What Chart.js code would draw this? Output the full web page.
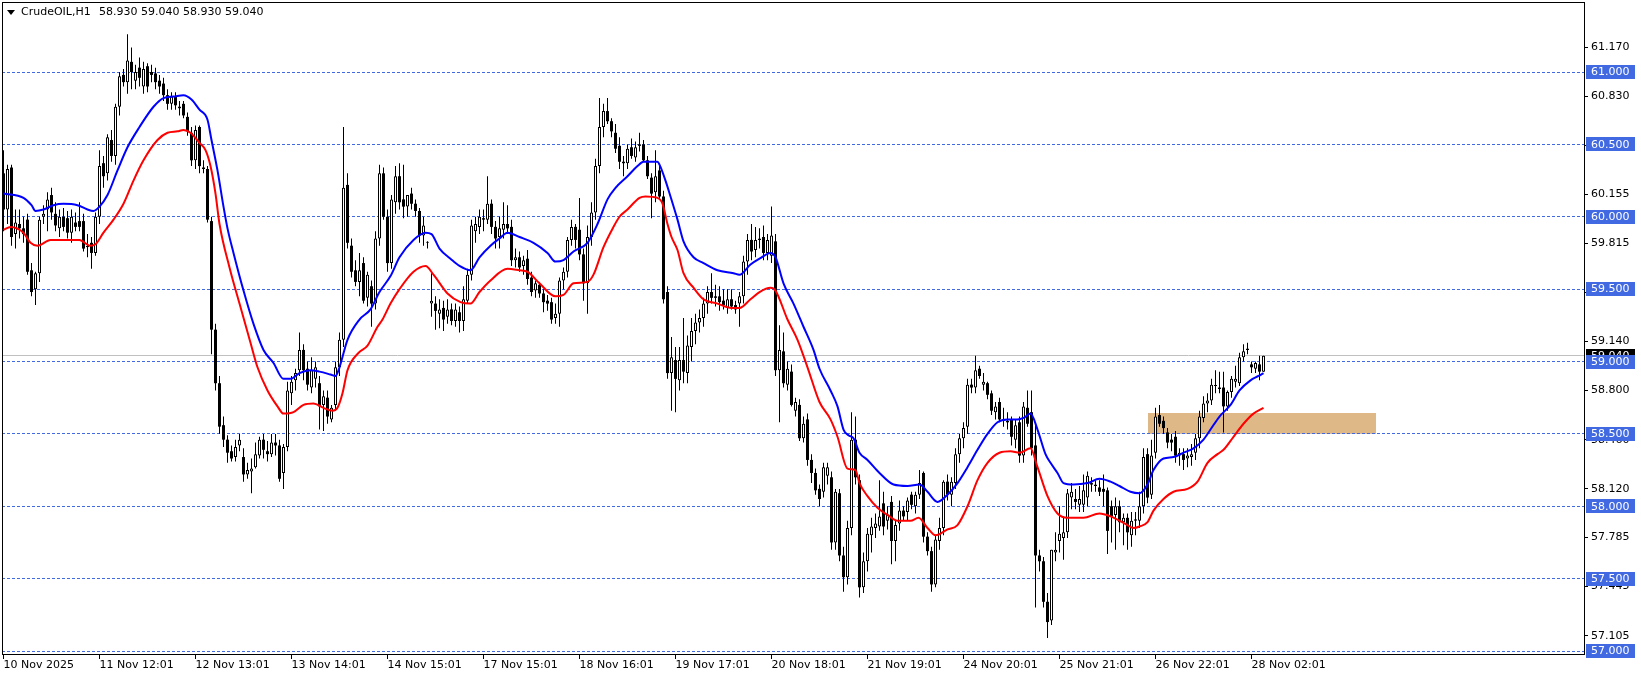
<!DOCTYPE html>
<html>
<head>
<meta charset="utf-8">
<script src="https://cdn.jsdelivr.net/npm/chart.js@4.4.0/dist/chart.umd.min.js"></script>
<style>
html,body{margin:0;padding:0;background:#ffffff;overflow:hidden}
#wrap{position:relative;width:1641px;height:678px}
canvas{display:block}
</style>
</head>
<body>
<div id="wrap"><canvas id="c" width="1641" height="678" style="width:1641px;height:678px"></canvas></div>
<script>
// ---------- DATA ----------
const symbolTitle = "CrudeOIL,H1";

const open = [
60.30,60.05,60.34,59.88,59.95,59.92,59.98,59.63,59.50,59.61,
60.00,60.05,60.15,60.02,59.92,60.00,59.99,59.89,59.96,59.97,
59.97,59.79,59.82,59.75,60.00,60.37,60.30,60.53,60.42,60.76,
60.98,60.93,61.07,60.94,61.03,60.90,61.04,61.00,60.99,60.94,
60.92,60.84,60.78,60.83,60.76,60.78,60.69,60.58,60.39,60.62,
60.34,60.33,59.97,59.22,58.85,58.56,58.46,58.38,58.34,58.42,
58.34,58.22,58.24,58.27,58.35,58.46,58.38,58.36,58.44,58.42,
58.23,58.41,58.78,58.87,58.94,59.08,58.95,58.82,58.88,58.85,
58.70,58.75,58.60,58.70,58.96,59.15,60.22,59.80,59.63,59.55,
59.68,59.44,59.52,59.40,59.85,60.30,60.00,59.68,60.10,60.28,
60.12,60.07,60.16,60.09,60.04,59.87,59.82,59.40,59.40,59.33,
59.37,59.31,59.36,59.28,59.34,59.28,59.42,59.60,59.90,59.93,
59.99,59.98,60.09,59.93,59.86,59.91,59.95,59.93,59.70,59.72,
59.66,59.71,59.58,59.49,59.53,59.47,59.42,59.41,59.30,59.33,
59.56,59.62,59.84,59.93,59.91,59.74,59.54,59.86,60.03,60.35,
60.62,60.73,60.66,60.58,60.49,60.38,60.37,60.48,60.41,60.50,
60.50,60.39,60.27,60.17,60.32,60.14,59.48,58.92,59.01,58.87,
59.01,58.92,59.10,59.21,59.27,59.30,59.40,59.48,59.45,59.45,
59.42,59.37,59.43,59.39,59.40,59.45,59.69,59.84,59.77,59.84,
59.86,59.75,59.73,59.83,58.94,59.07,58.84,58.93,58.66,58.70,
58.47,58.60,58.32,58.23,58.12,58.10,58.21,58.20,57.75,58.09,
57.66,57.51,57.85,58.46,58.18,57.44,57.62,57.80,57.85,57.86,
58.02,57.90,58.03,57.76,57.88,57.97,57.96,58.08,58.00,58.08,
58.23,57.79,57.69,57.46,57.76,57.85,58.17,58.08,58.16,58.36,
58.47,58.55,58.84,58.82,58.95,58.84,58.85,58.78,58.65,58.72,
58.60,58.59,58.60,58.46,58.58,58.35,58.68,58.65,58.42,57.66,
57.62,57.34,57.21,57.68,57.76,57.78,57.82,58.06,58.05,58.01,
58.01,58.06,58.16,58.14,58.13,58.12,58.11,58.00,57.94,58.00,
57.89,57.92,57.80,57.90,57.90,58.00,58.36,58.08,58.37,58.63,
58.59,58.51,58.46,58.48,58.35,58.36,58.33,58.34,58.37,58.47,
58.61,58.71,58.73,58.83,58.82,58.82,58.69,58.79,58.86,58.85,
59.03,59.08,58.98,58.95,58.98,58.93];

const high = [
60.46,60.36,60.36,60.05,60.05,60.00,60.02,59.68,59.62,60.00,
60.08,60.17,60.20,60.10,60.05,60.06,60.04,60.05,60.03,60.10,
60.02,59.88,59.86,60.03,60.46,60.42,60.57,60.60,60.78,61.00,
61.02,61.26,61.17,61.05,61.10,61.07,61.06,61.05,61.03,60.98,
60.96,60.88,60.86,60.86,60.80,60.80,60.72,60.62,60.63,60.63,
60.39,60.35,60.00,59.26,58.90,58.62,58.49,58.42,58.46,58.50,
58.40,58.30,58.33,58.44,58.48,58.50,58.45,58.50,58.50,58.46,
58.43,58.86,58.90,58.95,59.20,59.12,59.00,59.03,59.00,58.90,
58.80,58.80,58.70,59.00,59.20,60.62,60.30,59.85,59.70,59.75,
59.72,59.62,59.56,59.90,60.36,60.34,60.05,60.15,60.35,60.37,
60.36,60.15,60.20,60.12,60.06,60.00,59.83,59.61,59.45,59.43,
59.42,59.43,59.40,59.40,59.38,59.52,59.64,59.98,60.00,60.05,
60.05,60.28,60.12,59.97,60.00,60.10,60.08,59.98,59.78,59.76,
59.73,59.77,59.62,59.56,59.55,59.50,59.46,59.44,59.40,59.58,
59.65,59.86,59.98,59.95,60.13,59.78,59.94,60.10,60.40,60.82,
60.78,60.82,60.68,60.64,60.55,60.42,60.50,60.54,60.52,60.58,
60.53,60.42,60.30,60.46,60.36,60.18,59.52,59.17,59.10,59.10,
59.30,59.18,59.30,59.33,59.36,59.44,59.52,59.61,59.53,59.52,
59.50,59.50,59.50,59.42,59.48,59.73,59.88,59.95,59.93,59.92,
59.94,59.88,60.07,59.88,59.25,59.20,59.00,58.98,58.75,58.74,
58.62,58.64,58.36,58.26,58.15,58.30,58.30,58.24,58.12,58.12,
57.72,57.90,58.65,58.62,58.22,57.68,57.85,57.92,57.95,58.18,
58.10,58.00,58.07,57.90,58.04,58.00,58.06,58.10,58.10,58.25,
58.24,57.82,57.72,57.80,57.92,58.18,58.22,58.20,58.40,58.50,
58.58,58.88,58.88,59.04,58.97,58.92,58.86,58.80,58.72,58.75,
58.68,58.65,58.62,58.60,58.62,58.72,58.80,58.80,58.58,57.70,
57.65,57.40,57.70,57.82,58.00,57.93,58.12,58.16,58.12,58.14,
58.22,58.24,58.20,58.18,58.18,58.22,58.13,58.04,58.06,58.04,
57.95,57.95,57.96,57.96,58.10,58.40,58.40,58.46,58.68,58.70,
58.62,58.54,58.50,58.52,58.40,58.40,58.40,58.43,58.50,58.66,
58.76,58.78,58.88,58.94,58.93,58.93,58.80,58.90,58.97,59.06,
59.12,59.13,59.00,59.00,59.04,59.04];

const low = [
59.90,59.95,59.80,59.78,59.85,59.82,59.60,59.45,59.39,59.55,
59.95,59.90,59.98,59.90,59.86,59.90,59.85,59.82,59.90,59.90,
59.76,59.72,59.64,59.73,59.95,60.20,60.25,60.38,60.36,60.70,
60.90,60.85,60.88,60.88,60.90,60.85,60.86,60.93,60.88,60.85,
60.80,60.74,60.74,60.74,60.70,60.68,60.56,60.35,60.33,60.30,
60.30,59.96,59.05,58.80,58.50,58.41,58.30,58.31,58.31,58.38,
58.17,58.19,58.09,58.26,58.33,58.33,58.31,58.34,58.35,58.17,
58.12,58.38,58.70,58.80,58.90,58.87,58.80,58.78,58.82,58.53,
58.52,58.57,58.58,58.66,58.90,59.10,59.78,59.58,59.52,59.45,
59.40,59.38,59.24,59.36,59.80,59.98,59.62,59.64,60.02,60.05,
59.99,60.00,60.05,60.00,59.82,59.80,59.78,59.31,59.22,59.23,
59.21,59.26,59.25,59.24,59.20,59.21,59.40,59.56,59.82,59.88,
59.90,59.95,59.88,59.78,59.78,59.85,59.88,59.66,59.65,59.62,
59.60,59.53,59.45,59.44,59.44,59.34,59.35,59.26,59.26,59.24,
59.50,59.58,59.80,59.78,59.70,59.42,59.33,59.80,59.98,60.30,
60.55,60.64,60.55,60.44,60.33,60.28,60.33,60.40,60.38,60.45,
60.38,60.26,59.99,60.10,60.12,59.40,58.88,58.66,58.65,58.80,
58.85,58.85,59.00,59.12,59.20,59.24,59.33,59.40,59.38,59.35,
59.36,59.33,59.36,59.33,59.24,59.40,59.60,59.70,59.72,59.78,
59.70,59.70,59.68,58.90,58.58,58.82,58.80,58.69,58.62,58.45,
58.44,58.28,58.16,58.08,58.00,58.06,58.15,57.70,57.70,57.62,
57.41,57.46,57.80,58.15,57.37,57.40,57.55,57.68,57.78,57.83,
57.80,57.84,57.60,57.62,57.83,57.90,57.90,57.98,57.95,58.05,
57.75,57.66,57.41,57.44,57.70,57.80,58.04,58.00,58.12,58.30,
58.40,58.50,58.78,58.78,58.88,58.80,58.74,58.63,58.60,58.58,
58.55,58.53,58.42,58.40,58.30,58.30,58.55,58.35,57.30,57.55,
57.30,57.09,57.18,57.62,57.68,57.63,57.78,57.98,57.98,57.96,
57.96,58.00,58.10,58.10,58.07,58.00,57.67,57.75,57.70,57.82,
57.73,57.70,57.72,57.80,57.85,57.95,58.02,58.05,58.33,58.55,
58.50,58.40,58.38,58.30,58.28,58.25,58.27,58.28,58.32,58.40,
58.58,58.65,58.70,58.78,58.78,58.51,58.66,58.75,58.82,58.83,
59.00,59.05,58.92,58.92,58.87,58.93];

const close = [
60.05,60.33,59.86,59.96,59.92,59.88,59.62,59.48,59.61,59.98,
60.02,60.12,60.03,59.94,60.00,59.93,59.89,60.00,59.93,59.93,
59.78,59.80,59.75,60.00,60.35,60.28,60.55,60.42,60.76,60.97,
60.93,61.08,61.00,61.00,60.96,61.02,60.90,60.98,60.93,60.90,
60.84,60.78,60.83,60.77,60.75,60.70,60.59,60.39,60.60,60.35,
60.33,59.98,59.22,58.85,58.55,58.46,58.37,58.33,58.41,58.46,
58.22,58.25,58.26,58.36,58.46,58.39,58.36,58.44,58.42,58.19,
58.41,58.80,58.86,58.92,59.08,58.94,58.84,58.94,58.96,58.69,
58.76,58.62,58.68,58.96,59.15,60.20,59.82,59.62,59.55,59.63,
59.42,59.60,59.40,59.85,60.30,60.00,59.68,60.12,60.28,60.10,
60.07,60.15,60.09,60.04,59.87,59.94,59.82,59.42,59.35,59.36,
59.29,59.36,59.28,59.36,59.28,59.43,59.60,59.94,59.95,60.00,
59.98,60.09,59.93,59.85,59.92,59.95,59.92,59.70,59.72,59.65,
59.70,59.57,59.48,59.54,59.47,59.41,59.40,59.29,59.33,59.56,
59.62,59.84,59.93,59.84,59.74,59.54,59.86,60.03,60.35,60.62,
60.73,60.66,60.59,60.47,60.38,60.37,60.47,60.42,60.48,60.49,
60.39,60.28,60.16,60.28,60.14,59.43,58.92,59.03,58.88,59.01,
58.93,59.11,59.21,59.27,59.30,59.40,59.48,59.44,59.44,59.41,
59.39,59.43,59.38,59.36,59.45,59.69,59.84,59.76,59.84,59.85,
59.75,59.84,59.87,58.94,59.08,58.85,58.95,58.70,58.72,58.47,
58.57,58.32,58.23,58.11,58.05,58.27,58.27,57.75,58.10,57.66,
57.51,57.85,58.46,58.20,57.44,57.62,57.81,57.86,57.88,57.93,
57.86,57.94,57.76,57.87,57.97,57.93,58.04,58.01,58.08,58.16,
57.79,57.69,57.46,57.77,57.85,58.17,58.08,58.17,58.36,58.47,
58.54,58.84,58.82,58.94,58.90,58.86,58.77,58.66,58.69,58.60,
58.59,58.58,58.48,58.56,58.35,58.69,58.57,58.40,57.66,57.62,
57.34,57.20,57.70,57.70,57.81,57.82,58.09,58.10,58.03,58.05,
58.11,58.21,58.15,58.15,58.10,58.10,57.83,57.93,58.00,57.89,
57.92,57.82,57.90,57.91,58.00,58.34,58.06,58.35,58.62,58.57,
58.54,58.44,58.44,58.35,58.37,58.32,58.35,58.36,58.47,58.62,
58.71,58.73,58.84,58.83,58.81,58.69,58.79,58.88,58.88,59.03,
59.07,59.09,58.96,58.99,58.93,59.04];

// Blue moving-average line, sampled (bar index, price)
const blueIdx = [0,5,7,8,10,12.5,15,18.5,21,22.5,24,26,28.5,31,34,37.5,40,42.5,45,47,49,51,52,53.5,55,56,57.5,60,62.5,65,67.5,70,71.75,74,76.75,79,81.75,83,84,86,89,91.75,94,96.75,99,102.5,105.5,107,109,111.75,114,116.75,119,121.75,124,126,129,132.5,136,138,140,142.5,146,148.5,151,153,156,158.5,160,163.5,164,165.5,166.75,168.5,170,172.5,175,178.5,182.5,184,186.75,189,191.75,193,195,197.5,200,202.5,204,206.75,208.5,210,211.25,212.5,214,216,219,222.5,226,229,231,233.5,236,238.5,241,243.5,246,248.5,251,253.5,255,256.75,258.5,260.5,261.75,263.5,265,267.5,271,274,276.75,279,281.75,284,286,287.5,290,292.5,295,297.5,300,301.75,304,306.75,309,311.75,313.75,315];
const blueVal = [60.16,60.13,60.08,60.04,60.05,60.08,60.09,60.08,60.05,60.04,60.07,60.15,60.32,60.48,60.62,60.76,60.82,60.83,60.84,60.81,60.74,60.67,60.53,60.32,60.07,59.92,59.75,59.49,59.26,59.08,58.99,58.88,58.88,58.92,58.94,58.93,58.91,58.90,58.96,59.15,59.29,59.36,59.48,59.59,59.72,59.84,59.89,59.88,59.78,59.71,59.66,59.63,59.72,59.80,59.85,59.89,59.86,59.82,59.75,59.69,59.70,59.76,59.82,59.95,60.12,60.20,60.28,60.35,60.38,60.38,60.36,60.25,60.14,59.98,59.83,59.72,59.68,59.63,59.61,59.60,59.67,59.71,59.75,59.72,59.54,59.40,59.24,59.08,58.95,58.80,58.69,58.53,58.49,58.47,58.37,58.32,58.23,58.15,58.14,58.15,58.10,58.03,58.08,58.16,58.27,58.39,58.50,58.58,58.60,58.60,58.61,58.64,58.53,58.36,58.30,58.23,58.16,58.15,58.16,58.19,58.17,58.14,58.10,58.09,58.15,58.25,58.33,58.34,58.37,58.40,58.46,58.53,58.62,58.70,58.80,58.87,58.90,58.92];

// Red moving-average line, sampled (bar index, price)
const redIdx = [0,1.75,5,6.75,8.5,11.75,15,19,21.6,23,25,27.5,30,32.5,35,38.5,41,43.5,45,46.75,49,50.5,51.75,53,54,56.5,59,61.75,63.5,66,68.5,70,72.5,75,77.5,80,82.25,83.5,84.75,86,88.75,91,93.5,94.75,96.75,99,102.5,105.5,107.5,111,114.25,116.75,119,121.75,126,129,131,134,138,140,142.5,146,147.5,150,152.5,154,156,159,160.5,163.5,164.75,166,167,168.5,170,172.5,175,178.5,182,184,186.75,189,191.75,193,196,198.5,201,204,206.75,208.5,211,213,214,216,218.5,221,223.5,226.75,228.75,231,233,236,238.5,241,243.5,246,249,251.75,254,256.75,258.5,261,263.5,266,270,274,276.75,281,282.5,284,286,287.5,290,292.5,296,298.5,301,303.5,305,307.5,310,312.5,315];
const redVal = [59.91,59.93,59.89,59.82,59.80,59.84,59.84,59.84,59.80,59.81,59.89,59.98,60.09,60.25,60.39,60.53,60.58,60.59,60.60,60.58,60.51,60.46,60.35,60.16,59.95,59.65,59.40,59.13,58.96,58.80,58.69,58.64,58.65,58.70,58.71,58.68,58.66,58.68,58.78,58.94,59.06,59.11,59.24,59.29,59.40,59.50,59.62,59.66,59.60,59.47,59.41,59.40,59.48,59.56,59.64,59.63,59.62,59.54,59.45,59.46,59.54,59.55,59.60,59.79,59.93,60.00,60.05,60.13,60.14,60.13,60.09,59.95,59.86,59.77,59.61,59.51,59.43,59.40,59.37,59.37,59.43,59.48,59.51,59.49,59.29,59.15,58.96,58.72,58.60,58.48,58.26,58.25,58.16,58.07,57.99,57.94,57.90,57.90,57.92,57.85,57.80,57.84,57.87,58.00,58.18,58.30,58.37,58.38,58.37,58.40,58.27,58.07,57.95,57.92,57.92,57.95,57.93,57.87,57.85,57.86,57.89,57.97,58.05,58.10,58.12,58.17,58.30,58.36,58.39,58.48,58.57,58.64,58.68];

// Horizontal level lines, current price, price-axis ticks
const levelLines = [61.0, 60.5, 60.0, 59.5, 59.0, 58.5, 58.0, 57.5, 57.0];
const lastPrice = 59.04;
const yTickValues = [61.17, 60.83, 60.49, 60.155, 59.815, 59.475, 59.14, 58.80, 58.46, 58.12, 57.785, 57.445, 57.105];

// Time axis
const xTickIdx = [0, 24, 48, 72, 96, 120, 144, 168, 192, 216, 240, 264, 288, 312];
const xTickLabels = ["10 Nov 2025","11 Nov 12:01","12 Nov 13:01","13 Nov 14:01","14 Nov 15:01","17 Nov 15:01","18 Nov 16:01","19 Nov 17:01","20 Nov 18:01","21 Nov 19:01","24 Nov 20:01","25 Nov 21:01","26 Nov 22:01","28 Nov 02:01"];

// Shaded zone (bar index range and price range)
const zoneBars = [286, 343];
const zonePrices = [58.5, 58.646];

// ---------- BUILD ----------
const FONT = '"DejaVu Sans", "Liberation Sans", sans-serif';
const wicks = [], upBodies = [], downBodies = [];
for (let i = 0; i < close.length; i++) {
  wicks.push({x: i, y: [low[i], high[i]]});
  const o = open[i], c = close[i];
  const seg = {x: i, y: [Math.min(o, c), Math.max(o, c)]};
  if (c >= o) upBodies.push(seg); else downBodies.push(seg);
}
const blueData = blueIdx.map((x, k) => ({x: x, y: blueVal[k]}));
const redData = redIdx.map((x, k) => ({x: x, y: redVal[k]}));

const mtPlugin = {
  id: 'mt',
  beforeDatasetsDraw(chart) {
    const {ctx, chartArea: a, scales: {x, y}} = chart;
    ctx.save();
    ctx.beginPath();
    ctx.rect(a.left, a.top, a.right - a.left, a.bottom - a.top);
    ctx.clip();
    // zone rectangle (background object)
    const zx0 = Math.round(x.getPixelForValue(zoneBars[0]));
    const zx1 = Math.round(x.getPixelForValue(zoneBars[1]));
    const zy0 = Math.round(y.getPixelForValue(zonePrices[1]));
    const zy1 = Math.round(y.getPixelForValue(zonePrices[0]));
    ctx.fillStyle = '#DEB887';
    ctx.fillRect(zx0, zy0, zx1 - zx0, zy1 - zy0);
    // current price line
    ctx.strokeStyle = '#C0C0C0';
    ctx.lineWidth = 1;
    const py = Math.floor(y.getPixelForValue(lastPrice)) + 0.5;
    ctx.beginPath(); ctx.moveTo(a.left, py); ctx.lineTo(a.right, py); ctx.stroke();
    // dashed level lines
    ctx.strokeStyle = '#4169E1';
    ctx.setLineDash([3, 2]);
    for (const v of levelLines) {
      const yy = Math.floor(y.getPixelForValue(v)) + 0.5;
      ctx.beginPath(); ctx.moveTo(a.left, yy); ctx.lineTo(a.right, yy); ctx.stroke();
    }
    ctx.restore();
  },
  afterDraw(chart) {
    const {ctx, chartArea: a, scales: {y}} = chart;
    ctx.save();
    // frame
    ctx.strokeStyle = '#000';
    ctx.lineWidth = 1;
    ctx.strokeRect(a.left + 0.5, a.top + 0.5, a.right - a.left, a.bottom - a.top);
    // price labels on the axis
    ctx.font = '11px ' + FONT;
    ctx.textAlign = 'left';
    ctx.textBaseline = 'middle';
    const bx = a.right + 2, bw = 49, tx = a.right + 7;
    const cy = y.getPixelForValue(lastPrice);
    ctx.fillStyle = '#000000';
    ctx.fillRect(bx, Math.round(cy) - 7, bw, 14);
    ctx.fillStyle = '#FFFFFF';
    ctx.fillText(lastPrice.toFixed(3), tx, cy + 0.5);
    for (const v of levelLines) {
      const ly = y.getPixelForValue(v);
      ctx.fillStyle = '#4169E1';
      ctx.fillRect(bx, Math.round(ly) - 7, bw, 14);
      ctx.fillStyle = '#FFFFFF';
      ctx.fillText(v.toFixed(3), tx, ly + 0.5);
    }
    // title
    ctx.fillStyle = '#000';
    ctx.beginPath();
    ctx.moveTo(7, 10); ctx.lineTo(15, 10); ctx.lineTo(11, 15); ctx.closePath(); ctx.fill();
    ctx.fillText(symbolTitle, 21, 12.5);
    const n = close.length - 1;
    ctx.fillText([open[n], high[n], low[n], close[n]].map(v => v.toFixed(3)).join(' '), 99, 12.5);
    ctx.restore();
  }
};

const barCommon = {type: 'bar', grouped: false, inflateAmount: 0, borderSkipped: false};

new Chart(document.getElementById('c'), {
  type: 'bar',
  data: {
    datasets: [
      {type: 'line', label: 'MA high', data: blueData, borderColor: '#0000FF', borderWidth: 2, pointRadius: 0, cubicInterpolationMode: 'monotone', fill: false, order: 0},
      {type: 'line', label: 'MA low', data: redData, borderColor: '#FF0000', borderWidth: 2, pointRadius: 0, cubicInterpolationMode: 'monotone', fill: false, order: 0},
      Object.assign({}, barCommon, {label: 'up', data: upBodies, backgroundColor: '#FFFFFF', borderColor: '#000000', borderWidth: 1, barThickness: 3, minBarLength: 1, order: 1}),
      Object.assign({}, barCommon, {label: 'down', data: downBodies, backgroundColor: '#000000', borderWidth: 0, barThickness: 3, minBarLength: 1, order: 1}),
      Object.assign({}, barCommon, {label: 'wick', data: wicks, backgroundColor: '#000000', borderWidth: 0, barThickness: 1, minBarLength: 1, order: 2})
    ]
  },
  options: {
    responsive: false,
    animation: false,
    events: [],
    devicePixelRatio: 1,
    layout: {padding: {left: 2, top: 2, right: 0, bottom: 0}},
    plugins: {legend: {display: false}, tooltip: {enabled: false}, title: {display: false}},
    scales: {
      x: {
        type: 'linear', position: 'bottom', min: -0.375, max: 395.125, offset: false, bounds: 'data',
        grid: {display: true, drawOnChartArea: false, drawTicks: true, tickLength: 5, color: '#000', tickColor: '#000', offset: false},
        border: {display: false},
        afterBuildTicks: s => { s.ticks = xTickIdx.map(v => ({value: v})); },
        afterFit: s => { s.height = 24; s.paddingLeft = 0; s.paddingRight = 0; },
        ticks: {
          autoSkip: false, maxRotation: 0, minRotation: 0, align: 'start', padding: 0, color: '#000',
          font: {family: FONT, size: 11},
          callback: v => { const k = xTickIdx.indexOf(v); return k >= 0 ? xTickLabels[k] : ''; }
        }
      },
      y: {
        type: 'linear', position: 'right', min: 56.9793, max: 61.4836, bounds: 'data', beginAtZero: false,
        grid: {display: true, drawOnChartArea: false, drawTicks: true, tickLength: 4, color: '#000', tickColor: '#000'},
        border: {display: false},
        afterBuildTicks: s => { s.ticks = yTickValues.map(v => ({value: v})); },
        afterFit: s => { s.width = 57; s.paddingTop = 0; s.paddingBottom = 0; },
        ticks: {
          autoSkip: false, padding: 3, color: '#000', font: {family: FONT, size: 11},
          callback: v => Number(v).toFixed(3)
        }
      }
    }
  },
  plugins: [mtPlugin]
});
</script>
</body>
</html>
